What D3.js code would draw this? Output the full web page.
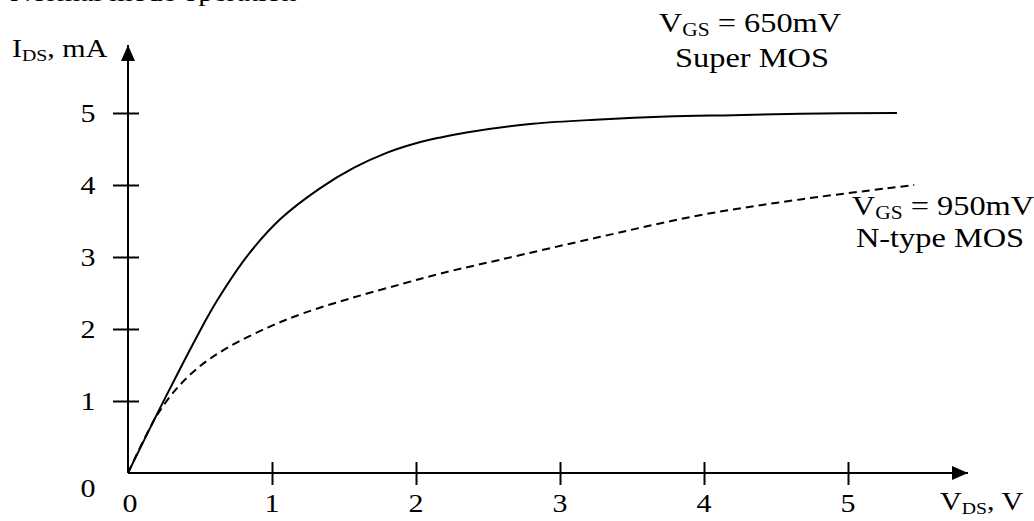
<!DOCTYPE html>
<html>
<head>
<meta charset="utf-8">
<script src="https://d3js.org/d3.v7.min.js"></script>
<style>
body { margin: 0; background: #fff; }
text { font-family: "Liberation Serif", "Times New Roman", serif; fill: #000; }
</style>
</head>
<body>
<div id="vis"></div>
<script>
// tick labels on both axes
var xTicks = [1, 2, 3, 4, 5];
var yTicks = [1, 2, 3, 4, 5];

// Super MOS, VGS = 650mV (solid)
var superV = [0, 0.26, 0.52, 0.62, 0.83, 1.06, 1.33, 1.57, 1.80, 2.00, 2.17, 2.35, 2.81, 3.28, 3.74, 4.20, 4.67, 5.34];
var superI = [0, 1.05, 2.05, 2.40, 3.02, 3.53, 3.95, 4.24, 4.45, 4.58, 4.66, 4.73, 4.85, 4.91, 4.95, 4.97, 4.99, 5.00];

// N-type MOS, VGS = 950mV (dashed)
var nmosV = [0, 0.12, 0.21, 0.35, 0.51, 0.70, 0.97, 1.22, 1.57, 1.91, 2.17, 2.58, 3.28, 3.97, 4.67, 5.46];
var nmosI = [0, 0.50, 0.83, 1.20, 1.50, 1.75, 2.02, 2.22, 2.44, 2.63, 2.77, 2.96, 3.28, 3.58, 3.80, 4.00];

var width = 1034;
var height = 521;
var stretch = 1.2; // the original picture is a bit wider than tall

var svg = d3.select('#vis')
    .append('svg')
    .attr('width', width)
    .attr('height', height);

var x_scale = d3.scaleLinear()
    .domain([0, 5])
    .range([128, 848]);

var y_scale = d3.scaleLinear()
    .domain([0, 5])
    .range([473, 113]);

// text helper: parts are [string, isSubscript]
function label(x, y, parts, size, anchor) {
    var t = svg.append('text')
        .attr('transform', 'translate(' + x + ',' + y + ') scale(' + stretch + ',1)')
        .style('font-size', size + 'px')
        .style('text-anchor', anchor || 'start');
    var sub = false;
    parts.forEach(function(p) {
        var s = t.append('tspan').text(p[0]);
        if (p[1] && !sub) { s.attr('dy', 4).style('font-size', '0.66em'); sub = true; }
        else if (!p[1] && sub) { s.attr('dy', -4); sub = false; }
    });
    return t;
}

// arrow head marker
svg.append('defs').append('marker')
    .attr('id', 'arrow')
    .attr('viewBox', '0 0 16 14')
    .attr('refX', 16)
    .attr('refY', 7)
    .attr('markerWidth', 16)
    .attr('markerHeight', 14)
    .attr('markerUnits', 'userSpaceOnUse')
    .attr('orient', 'auto')
    .append('path')
    .attr('d', 'M0,0L16,7L0,14Z')
    .attr('fill', '#000');

// axes lines
svg.append('line')
    .attr('x1', x_scale(0)).attr('y1', y_scale(0))
    .attr('x2', 968).attr('y2', y_scale(0))
    .attr('stroke', '#000').attr('stroke-width', 2)
    .attr('marker-end', 'url(#arrow)');

svg.append('line')
    .attr('x1', x_scale(0)).attr('y1', y_scale(0))
    .attr('x2', x_scale(0)).attr('y2', 45)
    .attr('stroke', '#000').attr('stroke-width', 2)
    .attr('marker-end', 'url(#arrow)');

var x_axis = d3.axisBottom(x_scale).tickValues(xTicks).tickFormat(d3.format('d'));
var y_axis = d3.axisLeft(y_scale).tickValues(yTicks).tickFormat(d3.format('d'));

var gx = svg.append('g')
    .attr('class', 'x axis')
    .attr('transform', 'translate(0,' + y_scale(0) + ')')
    .call(x_axis);
gx.select('.domain').remove();
gx.selectAll('.tick line').attr('y1', -11).attr('y2', 12).attr('stroke', '#000').attr('stroke-width', 2);
gx.selectAll('.tick text').remove();

var gy = svg.append('g')
    .attr('class', 'y axis')
    .attr('transform', 'translate(' + x_scale(0) + ',0)')
    .call(y_axis);
gy.select('.domain').remove();
gy.selectAll('.tick line').attr('x1', -15).attr('x2', 11).attr('stroke', '#000').attr('stroke-width', 2);
gy.selectAll('.tick text').remove();

// tick labels, drawn as stretched serif text
xTicks.forEach(function(d) {
    label(x_scale(d), y_scale(0) + 39, [[String(d)]], 25, 'middle');
});
yTicks.forEach(function(d) {
    label(88, y_scale(d) + 9, [[String(d)]], 25, 'middle');
});
label(88, 497, [['0']], 25, 'middle');
label(130, 512, [['0']], 25, 'middle');

// curves
var line = d3.line()
    .x(function(d) { return x_scale(d[0]); })
    .y(function(d) { return y_scale(d[1]); })
    .curve(d3.curveCatmullRom.alpha(0.5));

svg.append('path')
    .datum(d3.zip(superV, superI))
    .attr('d', line)
    .attr('fill', 'none')
    .attr('stroke', '#000')
    .attr('stroke-width', 2);

svg.append('path')
    .datum(d3.zip(nmosV, nmosI))
    .attr('d', line)
    .attr('fill', 'none')
    .attr('stroke', '#000')
    .attr('stroke-width', 2)
    .attr('stroke-dasharray', '8,5');

// axis titles and annotations
label(12, 57, [['I'], ['DS', true], [', mA']], 25);
label(940, 510, [['V'], ['DS', true], [', V']], 25);

label(750, 32, [['V'], ['GS', true], [' = 650mV']], 27, 'middle');
label(752, 67, [['Super MOS']], 27, 'middle');
label(943, 215, [['V'], ['GS', true], [' = 950mV']], 27, 'middle');
label(940, 247, [['N-type MOS']], 27, 'middle');

// caption cut off at the top edge, as in the source picture
label(10, 1, [['Normal mode operation']], 25);
</script>
</body>
</html>
